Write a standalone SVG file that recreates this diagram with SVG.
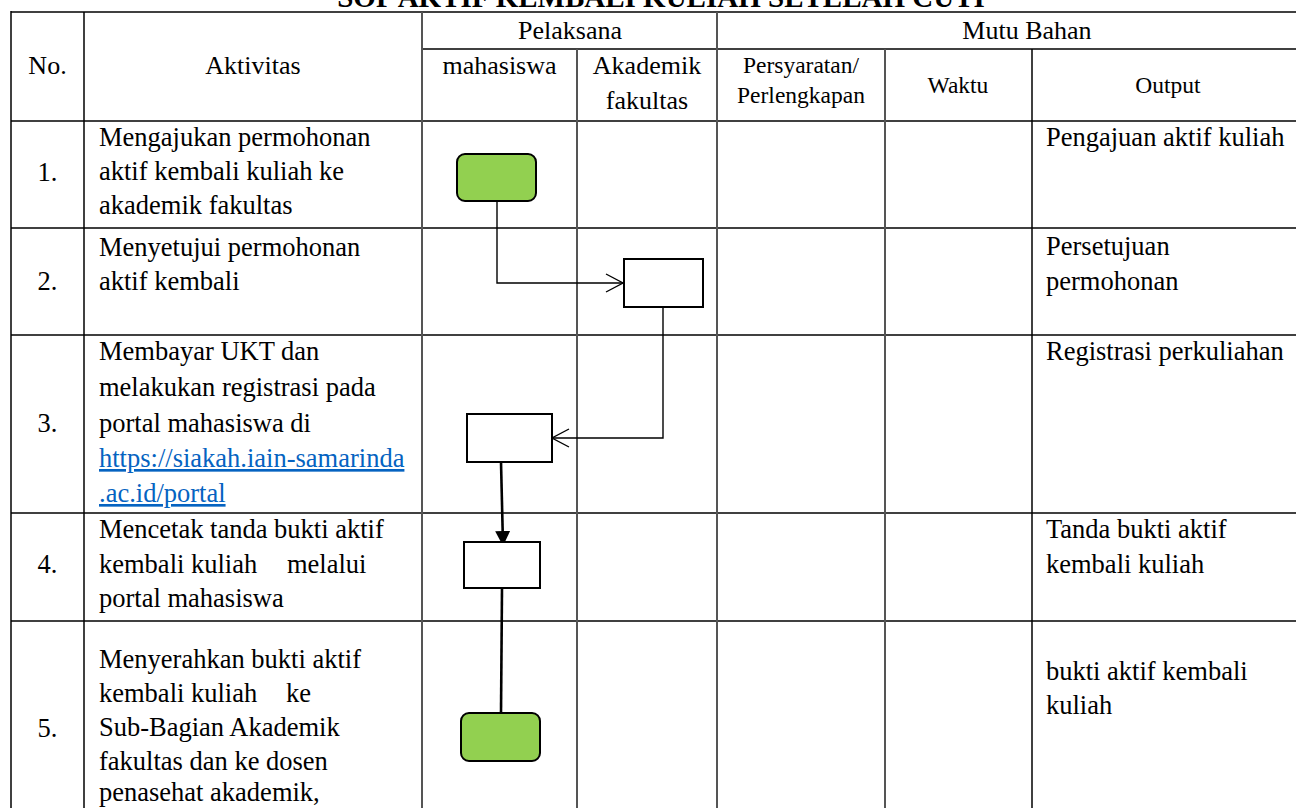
<svg xmlns="http://www.w3.org/2000/svg" width="1296" height="808" viewBox="0 0 1296 808">
<style>
text{font-family:"Liberation Serif","Times New Roman",serif;fill:#000}
.t{font-size:26.5px}
.hd{font-size:26px;text-anchor:middle}
.sm{font-size:23.5px;text-anchor:middle}
.ttl{font-size:29px;font-weight:bold;text-anchor:middle}
.num{font-size:26.5px;text-anchor:middle}
.lnk{fill:#0563c1;text-decoration:underline}
.h{stroke:#000;stroke-width:1.5}
.v{stroke:#555;stroke-width:2}
.term{fill:#92d050;stroke:#000;stroke-width:2}
.box{fill:#fff;stroke:#000;stroke-width:2}
.thin{fill:none;stroke:#000;stroke-width:1.4}
.thick{fill:none;stroke:#000;stroke-width:2.6}
</style>
<defs>
<marker id="open" markerWidth="20" markerHeight="22" refX="18" refY="10" orient="auto" markerUnits="userSpaceOnUse">
<path d="M1,1 L18,10 L1,19" fill="none" stroke="#000" stroke-width="1.4"/>
</marker>
<marker id="solid" markerWidth="18" markerHeight="18" refX="14" refY="8" orient="auto" markerUnits="userSpaceOnUse">
<path d="M0,0.5 L15,8 L0,15.5 Z" fill="#000"/>
</marker>
</defs>
<rect width="1296" height="808" fill="#fff"/>
<text class="ttl" x="661" y="7">SOP AKTIF KEMBALI KULIAH SETELAH CUTI</text>
<g id="table">
<line class="h" x1="11" y1="12" x2="1296" y2="12"/>
<line class="h" x1="422" y1="49" x2="1296" y2="49"/>
<line class="h" x1="11" y1="121" x2="1296" y2="121"/>
<line class="h" x1="11" y1="228" x2="1296" y2="228"/>
<line class="h" x1="11" y1="335" x2="1296" y2="335"/>
<line class="h" x1="11" y1="513" x2="1296" y2="513"/>
<line class="h" x1="11" y1="621" x2="1296" y2="621"/>
<line class="h" x1="11" y1="11" x2="11" y2="808"/>
<line class="h" x1="84" y1="12" x2="84" y2="808"/>
<line class="v" x1="422" y1="12" x2="422" y2="808"/>
<line class="v" x1="577" y1="49" x2="577" y2="808"/>
<line class="v" x1="717" y1="12" x2="717" y2="808"/>
<line class="v" x1="885" y1="49" x2="885" y2="808"/>
<line class="h" x1="1032" y1="49" x2="1032" y2="808"/>
<text class="hd" x="570" y="39">Pelaksana</text>
<text class="hd" x="1027" y="39">Mutu Bahan</text>
<text class="hd" x="47.5" y="74">No.</text>
<text class="hd" x="253" y="74">Aktivitas</text>
<text class="hd" x="499.5" y="74">mahasiswa</text>
<text class="hd" x="647" y="74">Akademik</text>
<text class="hd" x="647" y="109">fakultas</text>
<text class="sm" x="801" y="73">Persyaratan/</text>
<text class="sm" x="801" y="103">Perlengkapan</text>
<text class="sm" x="958" y="93">Waktu</text>
<text class="sm" x="1168" y="93">Output</text>
</g>
<g id="row1">
<text class="num" x="47.5" y="181">1.</text>
<text class="t" x="99" y="146">Mengajukan permohonan</text>
<text class="t" x="99" y="180">aktif kembali kuliah ke</text>
<text class="t" x="99" y="214">akademik fakultas</text>
<text class="t" x="1046" y="146">Pengajuan aktif kuliah</text>
</g>
<g id="row2">
<text class="num" x="47.5" y="290">2.</text>
<text class="t" x="99" y="256">Menyetujui permohonan</text>
<text class="t" x="99" y="290">aktif kembali</text>
<text class="t" x="1046" y="255">Persetujuan</text>
<text class="t" x="1046" y="290">permohonan</text>
</g>
<g id="row3">
<text class="num" x="47.5" y="432">3.</text>
<text class="t" x="99" y="360">Membayar UKT dan</text>
<text class="t" x="99" y="396">melakukan registrasi pada</text>
<text class="t" x="99" y="432">portal mahasiswa di</text>
<text class="t lnk" x="99" y="467">https://siakah.iain-samarinda</text>
<text class="t lnk" x="99" y="502">.ac.id/portal</text>
<text class="t" x="1046" y="360">Registrasi perkuliahan</text>
</g>
<g id="row4">
<text class="num" x="47.5" y="573">4.</text>
<text class="t" x="99" y="538">Mencetak tanda bukti aktif</text>
<text class="t" x="99" y="573">kembali kuliah<tspan x="287">melalui</tspan></text>
<text class="t" x="99" y="607">portal mahasiswa</text>
<text class="t" x="1046" y="538">Tanda bukti aktif</text>
<text class="t" x="1046" y="573">kembali kuliah</text>
</g>
<g id="row5">
<text class="num" x="47.5" y="737">5.</text>
<text class="t" x="99" y="668">Menyerahkan bukti aktif</text>
<text class="t" x="99" y="702">kembali kuliah<tspan x="286">ke</tspan></text>
<text class="t" x="99" y="736">Sub-Bagian Akademik</text>
<text class="t" x="99" y="770">fakultas dan ke dosen</text>
<text class="t" x="99" y="801">penasehat akademik,</text>
<text class="t" x="1046" y="680">bukti aktif kembali</text>
<text class="t" x="1046" y="714">kuliah</text>
</g>
<g id="connectors">
<path class="thin" d="M497,201 V283 H623" marker-end="url(#open)"/>
<path class="thin" d="M663,307 V438 H552" marker-end="url(#open)"/>
<path class="thick" d="M501,462 L503,545" marker-end="url(#solid)"/>
<path class="thick" d="M502,588 L501,713"/>
</g>
<g id="node-start"><rect class="term" x="457" y="154" width="79" height="47" rx="8"/></g>
<g id="node-approve"><rect class="box" x="624" y="259" width="79" height="48"/></g>
<g id="node-register"><rect class="box" x="467" y="414" width="85" height="48"/></g>
<g id="node-print"><rect class="box" x="464" y="542" width="76" height="46"/></g>
<g id="node-end"><rect class="term" x="461" y="713" width="79" height="48" rx="8"/></g>
</svg>
